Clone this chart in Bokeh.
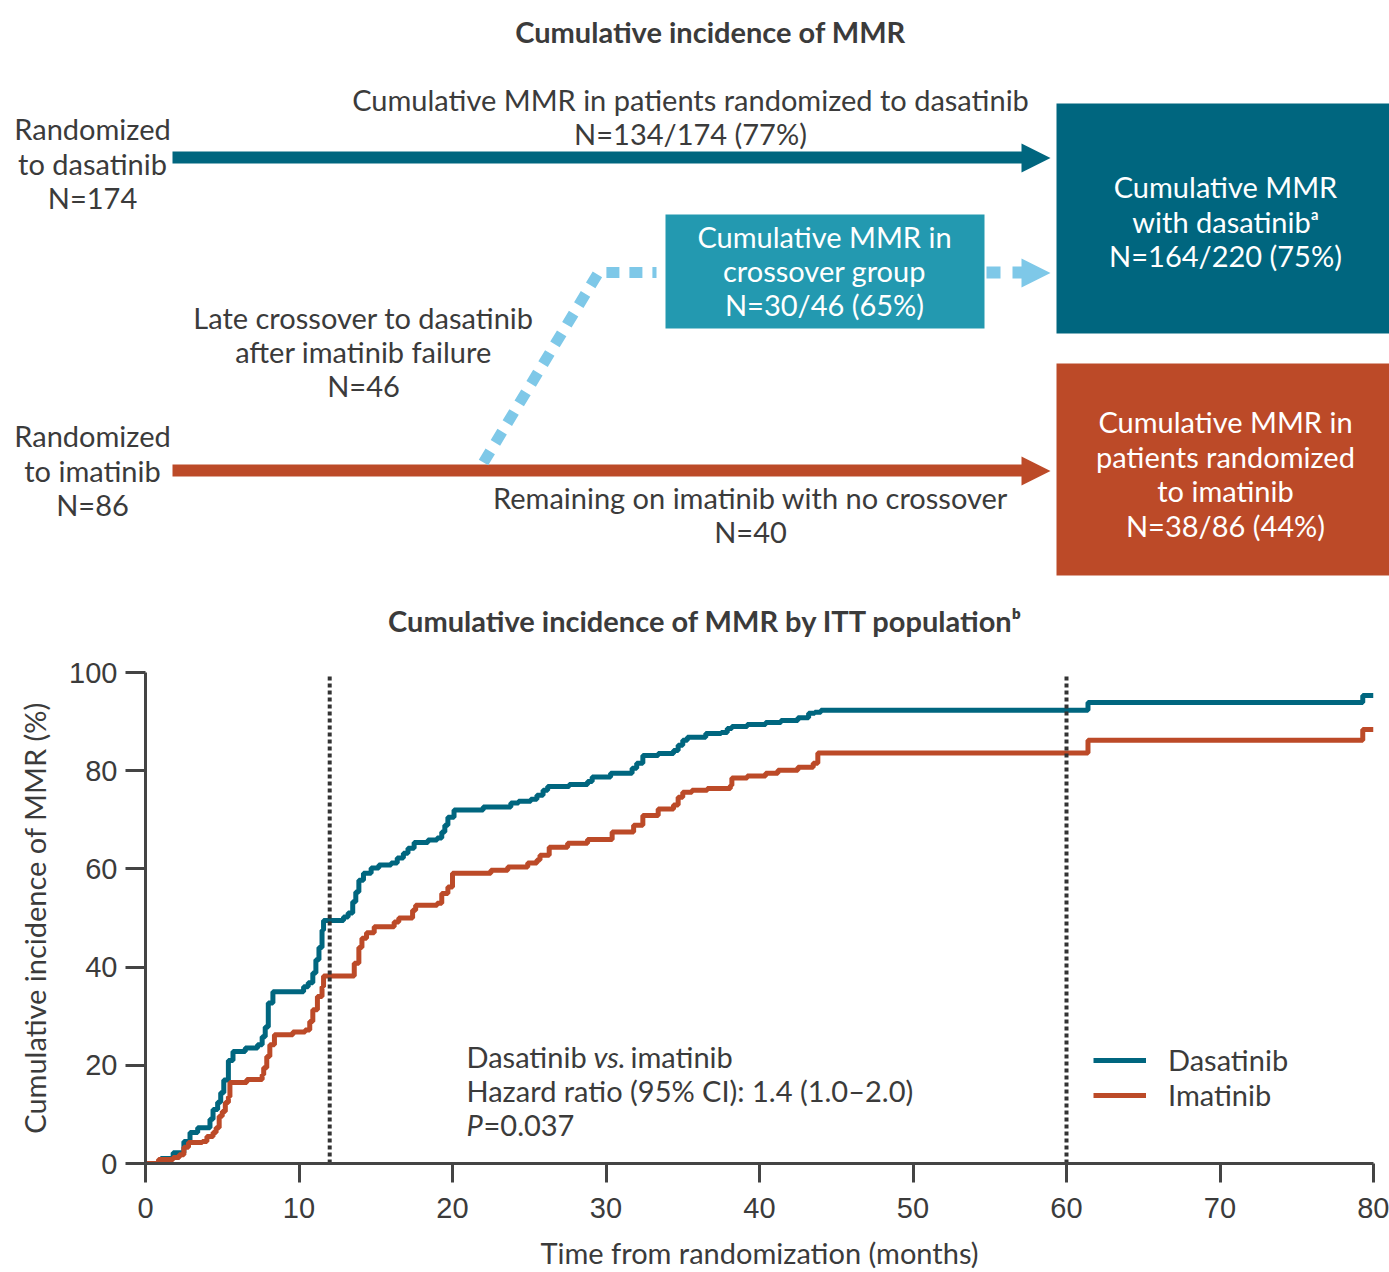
from bokeh.plotting import figure
from bokeh.models import Range1d, Label, FixedTicker
from bokeh.layouts import column
from bokeh.embed import file_html
from bokeh.resources import INLINE
from bokeh.core.properties import value

# ---------------- data ----------------
series_names = ["Dasatinib", "Imatinib"]

dasa_t = [0, 1.0, 1.8, 2.5, 2.9, 3.4, 4.2, 4.4, 4.7, 4.9, 5.1, 5.4, 5.7, 6.5, 7.3, 7.6, 7.8, 8.0, 8.3,
          10.3, 10.6, 10.9, 11.1, 11.3, 11.5, 11.6, 12.9, 13.2, 13.5, 13.7, 13.9, 14.2, 14.7, 15.2,
          16.0, 16.4, 16.8, 17.1, 17.5, 18.4, 19.0, 19.3, 19.5, 19.7, 20.1, 22.0, 23.8, 24.3, 25.1,
          25.5, 25.9, 26.2, 27.6, 28.8, 29.1, 30.3, 31.7, 32.0, 32.4, 33.4, 34.4, 34.7, 35.0, 35.3,
          36.5, 37.5, 37.9, 38.2, 39.2, 40.4, 41.4, 42.5, 43.2, 43.6, 44.0, 61.4, 79.3, 80.0]
dasa_y = [0, 1.0, 2.2, 4.5, 6.3, 7.3, 9.0, 11.0, 12.5, 14.4, 17.0, 21.0, 22.8, 23.5, 24.2, 25.8, 27.8, 32.7, 35.0,
          36.0, 36.8, 38.8, 41.5, 44.0, 47.5, 49.5, 50.2, 51.0, 53.3, 55.3, 57.7, 59.1, 60.2, 60.8,
          61.2, 62.2, 63.2, 64.2, 65.4, 65.9, 66.3, 67.5, 68.9, 70.5, 72.0, 72.6, 73.4, 73.8, 74.2,
          75.0, 76.0, 76.8, 77.2, 77.8, 78.7, 79.5, 80.5, 81.5, 83.1, 83.5, 84.1, 85.2, 86.2, 86.8,
          87.6, 87.8, 88.6, 89.0, 89.4, 89.8, 90.2, 90.8, 91.7, 91.9, 92.3, 93.9, 95.3, 95.3]

ima_t = [0, 0.85, 1.8, 2.2, 2.5, 2.8, 3.7, 4.0, 4.4, 4.6, 4.8, 5.0, 5.2, 5.4, 5.5, 6.6, 7.6, 7.7, 7.9, 8.1,
         8.4, 9.6, 10.4, 10.7, 10.9, 11.2, 11.5, 11.6, 13.6, 13.9, 14.1, 14.4, 14.9, 16.2, 16.5, 17.4,
         17.6, 19.0, 19.3, 19.7, 20.0, 22.5, 23.6, 24.9, 25.5, 25.7, 26.3, 27.5, 28.8, 30.4, 31.8, 32.4,
         33.4, 34.4, 34.7, 35.0, 35.6, 36.6, 38.1, 38.2, 39.2, 40.4, 41.2, 42.5, 43.5, 43.8, 61.4, 79.3, 80.0]
ima_y = [0, 0.8, 1.2, 1.8, 3.3, 4.3, 4.5, 5.5, 6.3, 7.3, 9.6, 10.6, 12.4, 13.6, 16.5, 17.1, 18.1, 19.5, 21.8, 24.2,
         26.2, 26.8, 27.2, 28.9, 31.3, 34.0, 36.0, 38.2, 40.8, 44.0, 45.9, 47.0, 48.2, 49.2, 50.0, 51.6,
         52.6, 53.0, 55.0, 56.3, 59.1, 59.7, 60.4, 61.2, 61.8, 62.8, 64.4, 65.2, 66.0, 67.5, 68.9, 70.9,
         72.2, 73.0, 74.6, 75.6, 76.0, 76.4, 77.0, 78.5, 78.9, 79.5, 80.1, 80.7, 81.5, 83.6, 86.2, 88.4, 88.4]

landmarks = [12, 60]
x_ticks = [0, 10, 20, 30, 40, 50, 60, 70, 80]
y_ticks = [0, 20, 40, 60, 80, 100]

title_top = "Cumulative incidence of MMR"
title_itt = "Cumulative incidence of MMR by ITT population\u1d47"
dasa_arm = ["Randomized", "to dasatinib", "N=174"]
ima_arm = ["Randomized", "to imatinib", "N=86"]
dasa_path = ["Cumulative MMR in patients randomized to dasatinib", "N=134/174 (77%)"]
cross_path = ["Late crossover to dasatinib", "after imatinib failure", "N=46"]
ima_path = ["Remaining on imatinib with no crossover", "N=40"]
cross_box = ["Cumulative MMR in", "crossover group", "N=30/46 (65%)"]
dasa_box = ["Cumulative MMR", "with dasatinib\u1d43", "N=164/220 (75%)"]
ima_box = ["Cumulative MMR in", "patients randomized", "to imatinib", "N=38/86 (44%)"]

# ---------------- style ----------------
FONT = "Lato"
TICKFONT = "Liberation Sans"
TXT = "#3b3b3b"
BLUE = "#00667f"
RED = "#bc4a28"
TEAL = "#2399b0"
LIGHT = "#7ec8e8"
FS = "29px"

W = 1389
H_TOP = 650
H_BOT = 622

# ---------------- top diagram ----------------
top = figure(width=W, height=H_TOP, x_range=Range1d(0, W), y_range=Range1d(H_TOP, 0),
             output_backend="svg", toolbar_location=None, x_axis_location=None, y_axis_location=None,
             min_border=0)
top.grid.visible = False
top.outline_line_color = None
top.background_fill_color = "white"


def lines(fig, xc, y0, texts, color=TXT, size=FS, style="normal", step=34.5, align="center"):
    fig.text(x=[xc] * len(texts), y=[y0 - 2 + i * step for i in range(len(texts))], text=texts,
             text_align=align, text_baseline="middle", text_font=value(FONT),
             text_font_size=size, text_color=color, text_font_style=style)


# boxes
top.quad(left=[1056], right=[1395], top=[103], bottom=[333], fill_color=BLUE, line_color=None)
top.quad(left=[1056], right=[1395], top=[363], bottom=[575], fill_color=RED, line_color=None)
top.quad(left=[665], right=[984], top=[214], bottom=[328], fill_color=TEAL, line_color=None)

# arrows
top.line([172, 1024], [157, 157], line_width=12, line_color=BLUE)
top.patch([1021, 1050, 1021], [143, 157.5, 172], fill_color=BLUE, line_color=None)
top.line([172, 1024], [470, 470], line_width=12, line_color=RED)
top.patch([1021, 1050, 1021], [456, 470.5, 485], fill_color=RED, line_color=None)

# crossover dashed path
top.line([483, 598, 656], [462, 272, 272], line_width=11, line_color=LIGHT, line_dash="13 10")
top.line([986, 1024], [272, 272], line_width=12, line_color=LIGHT, line_dash="14 12")
top.patch([1021, 1050, 1021], [258, 272.5, 287], fill_color=LIGHT, line_color=None)

# texts
lines(top, 710, 33, [title_top], size="29px", style="bold")
lines(top, 690, 101, dasa_path, step=34)
lines(top, 92, 130, dasa_arm)
lines(top, 92, 437, ima_arm)
lines(top, 363, 319, cross_path, step=34)
lines(top, 750, 499, ima_path, step=34)
lines(top, 824, 238, cross_box, color="white", step=34)
lines(top, 1225, 188, dasa_box, color="white")
lines(top, 1225, 423, ima_box, color="white", step=34.7)
lines(top, 705, 622, [title_itt], size="29px", style="bold")

# ---------------- bottom chart ----------------
p = figure(width=W, height=H_BOT, x_range=Range1d(0, 80), y_range=Range1d(0, 100),
           output_backend="svg", toolbar_location=None,
           min_border_left=145, min_border_right=16, min_border_top=22, min_border_bottom=108)
p.grid.visible = False
p.outline_line_color = None

p.step(dasa_t, dasa_y, mode="after", line_width=5, line_color=BLUE, legend_label=series_names[0])
p.step(ima_t, ima_y, mode="after", line_width=5, line_color=RED, legend_label=series_names[1])
p.segment(x0=landmarks, y0=[0] * len(landmarks), x1=landmarks, y1=[99.5] * len(landmarks),
          line_width=4, line_color="#333333", line_dash="4 3")

for ax in (p.xaxis[0], p.yaxis[0]):
    ax.axis_line_width = 3
    ax.axis_line_color = "#444444"
    ax.major_tick_line_width = 3
    ax.major_tick_line_color = "#444444"
    ax.major_tick_in = 0
    ax.minor_tick_line_color = None
    ax.major_label_text_font = TICKFONT
    ax.major_label_text_font_size = "29px"
    ax.major_label_text_color = TXT
    ax.axis_label_text_font = FONT
    ax.axis_label_text_font_size = FS
    ax.axis_label_text_font_style = "normal"
    ax.axis_label_text_color = TXT

p.xaxis.ticker = FixedTicker(ticks=x_ticks)
p.yaxis.ticker = FixedTicker(ticks=y_ticks)
p.xaxis.major_tick_out = 19
p.yaxis.major_tick_out = 20
p.xaxis.major_label_standoff = 15
p.yaxis.major_label_standoff = 8
p.xaxis.axis_label_standoff = 14
p.yaxis.axis_label_standoff = 14
p.xaxis.axis_label = "Time from randomization (months)"
p.yaxis.axis_label = "Cumulative incidence of MMR (%)"

lg = p.legend[0]
lg.location = (948, 51)
lg.padding = 0
lg.margin = 0
lg.spacing = 0
lg.glyph_width = 53
lg.glyph_height = 34
lg.label_height = 34
lg.label_standoff = 22
lg.border_line_color = None
lg.background_fill_alpha = 0
lg.label_text_font = FONT
lg.label_text_font_size = FS
lg.label_text_color = TXT

stat_x = (466 - 145) / (1373 - 145) * 80
for yv, xo, txt, st in [(21.7, 0, "Dasatinib", "normal"), (21.7, 127, "vs.", "italic"),
                         (21.7, 164, "imatinib", "normal"),
                         (14.8, 0, "Hazard ratio (95% CI): 1.4 (1.0\u20132.0)", "normal"),
                         (7.9, 0, "P", "italic"), (7.9, 17, "=0.037", "normal")]:
    p.add_layout(Label(x=stat_x, y=yv, x_offset=xo, text=txt, text_font=FONT, text_font_size=FS,
                       text_font_style=st, text_color=TXT, text_baseline="middle", text_align="left"))

for f in (top, p):
    try:
        f.frame_align = False
    except Exception:
        pass

layout = column(top, p, spacing=0)
open("out.html", "w").write(file_html(layout, INLINE))
